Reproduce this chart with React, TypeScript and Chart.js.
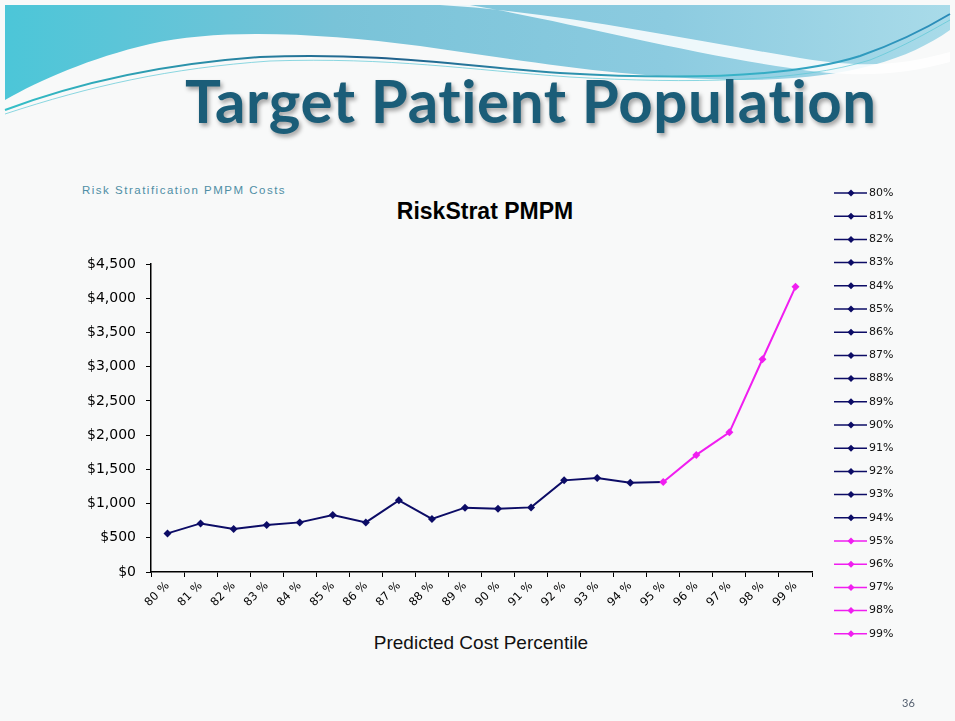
import React, { useEffect, useRef } from "react";
import { Chart, registerables } from "chart.js";

Chart.register(...registerables);

// ---- data ----
const categories = [
  "80 %", "81 %", "82 %", "83 %", "84 %", "85 %", "86 %", "87 %", "88 %", "89 %",
  "90 %", "91 %", "92 %", "93 %", "94 %", "95 %", "96 %", "97 %", "98 %", "99 %",
];
const legendLabels = [
  "80%", "81%", "82%", "83%", "84%", "85%", "86%", "87%", "88%", "89%",
  "90%", "91%", "92%", "93%", "94%", "95%", "96%", "97%", "98%", "99%",
];
const pmpmCosts = [
  564, 710, 628, 687, 725, 833, 725, 1047, 775, 940,
  925, 944, 1339, 1374, 1305, 1316, 1711, 2041, 3108, 4167,
];
// 1 = highlighted (top-percentile) group
const highlightGroup = [
  0, 0, 0, 0, 0, 0, 0, 0, 0, 0,
  0, 0, 0, 0, 0, 1, 1, 1, 1, 1,
];
const yMin = 0;
const yMax = 4500;
const yStep = 500;

const NAVY = "#0c0c66";
const MAGENTA = "#f01ef0";
const colorOf = (i: number) => (highlightGroup[i] ? MAGENTA : NAVY);

const sideLegend = {
  id: "sideLegend",
  afterDraw(chart: any) {
    const ctx = chart.ctx as CanvasRenderingContext2D;
    ctx.save();
    ctx.font = "11px 'DejaVu Sans'";
    ctx.textBaseline = "middle";
    ctx.textAlign = "left";
    legendLabels.forEach((lab, i) => {
      const y = 193 + i * 23.2;
      const c = colorOf(i);
      ctx.strokeStyle = c;
      ctx.lineWidth = 1.5;
      ctx.beginPath();
      ctx.moveTo(834, y);
      ctx.lineTo(867, y);
      ctx.stroke();
      ctx.fillStyle = c;
      ctx.beginPath();
      ctx.moveTo(851, y - 3.5);
      ctx.lineTo(854.5, y);
      ctx.lineTo(851, y + 3.5);
      ctx.lineTo(847.5, y);
      ctx.closePath();
      ctx.fill();
      ctx.fillStyle = "#111";
      ctx.fillText(lab, 869, y);
    });
    ctx.restore();
  },
};

function ChartCanvas() {
  const ref = useRef<HTMLCanvasElement | null>(null);
  useEffect(() => {
    if (!ref.current) return;
    const chart = new Chart(ref.current, {
      type: "line",
      data: {
        labels: categories,
        datasets: [
          {
            label: "RiskStrat PMPM",
            data: pmpmCosts,
            borderWidth: 2,
            borderColor: NAVY,
            segment: {
              borderColor: (ctx: any) => colorOf(ctx.p0DataIndex),
            },
            pointStyle: "rectRot",
            pointRadius: 4,
            pointBorderWidth: 0,
            pointBackgroundColor: categories.map((_, i) => colorOf(i)),
            pointBorderColor: categories.map((_, i) => colorOf(i)),
            tension: 0,
          },
        ],
      },
      options: {
        responsive: false,
        animation: false,
        devicePixelRatio: 1,
        layout: { padding: { left: 61, top: 264, right: 143, bottom: 89 } },
        plugins: {
          legend: { display: false },
          title: { display: false },
          tooltip: { enabled: false },
        },
        scales: {
          x: {
            type: "category",
            offset: true,
            grid: {
              offset: true,
              drawOnChartArea: false,
              drawTicks: true,
              tickLength: 5,
              color: "#000",
              lineWidth: 1,
            },
            border: { display: true, color: "#000", width: 1.5 },
            ticks: {
              autoSkip: false,
              maxRotation: 45,
              minRotation: 45,
              padding: 2,
              color: "#000",
              font: { family: "'DejaVu Sans'", size: 11.5 },
            },
            afterFit: (s: any) => {
              s.height = 60;
            },
          },
          y: {
            min: yMin,
            max: yMax,
            grid: {
              drawOnChartArea: false,
              drawTicks: true,
              tickLength: 5,
              color: "#000",
              lineWidth: 1,
            },
            border: { display: true, color: "#000", width: 1.5 },
            ticks: {
              stepSize: yStep,
              padding: 10,
              color: "#000",
              font: { family: "'DejaVu Sans'", size: 14 },
              callback: (v: any) => "$" + Number(v).toLocaleString("en-US"),
            },
            afterFit: (s: any) => {
              s.width = 90;
            },
          },
        },
      },
      plugins: [sideLegend],
    });
    return () => chart.destroy();
  }, []);
  return (
    <canvas
      ref={ref}
      width={955}
      height={721}
      style={{ position: "absolute", left: 0, top: 0, width: 955, height: 721 }}
    />
  );
}

function Header() {
  return (
    <svg width={955} height={160} style={{ position: "absolute", left: 0, top: 0 }}>
      <defs>
        <linearGradient id="band" x1="0" y1="0" x2="1" y2="0">
          <stop offset="0" stopColor="#4cc6d8" />
          <stop offset="0.35" stopColor="#79c3d8" />
          <stop offset="0.7" stopColor="#8ccbe0" />
          <stop offset="1" stopColor="#a9dbe9" />
        </linearGradient>
        <linearGradient id="lineg" x1="0" y1="0" x2="1" y2="0">
          <stop offset="0" stopColor="#35c0c8" />
          <stop offset="0.4" stopColor="#1f5f8a" />
          <stop offset="0.75" stopColor="#38b6c8" />
          <stop offset="1" stopColor="#2a8ab8" />
        </linearGradient>
      </defs>
      <path
        d="M5,5 L950,5 L950,30 C 905,62 840,80 740,80 C 620,78 520,60 420,46 C 320,33 220,28 150,44 C 90,58 40,80 5,100 Z"
        fill="url(#band)"
      />
      <path
        d="M440,5 C 560,12 690,40 800,58 C 860,68 900,66 950,52 L 950,62 C 900,76 850,78 790,68 C 680,52 560,20 470,5 Z"
        fill="#ffffff"
        opacity={0.85}
      />
      <path
        d="M5,110 C 80,82 160,64 260,57 C 380,52 460,66 560,73 C 680,80 790,78 860,56 C 900,42 930,26 950,14"
        fill="none"
        stroke="url(#lineg)"
        strokeWidth={2}
      />
      <path
        d="M5,114 C 90,86 170,68 270,61 C 390,57 470,70 570,77 C 690,84 800,82 870,60 C 905,46 932,30 950,20"
        fill="none"
        stroke="#5bc8d6"
        strokeWidth={1}
        opacity={0.7}
      />
    </svg>
  );
}

export default function App() {
  return (
    <div
      style={{
        position: "absolute",
        left: 0,
        top: 0,
        width: 955,
        height: 721,
        background: "#f8f9f9",
        overflow: "hidden",
        fontFamily: "'Liberation Sans', Arial, sans-serif",
      }}
    >
      <Header />
      <div
        style={{
          position: "absolute",
          left: 185,
          top: 70,
          fontFamily: "Lato, sans-serif",
          fontWeight: 700,
          fontSize: 60,
          letterSpacing: 0.6,
          lineHeight: 1,
          color: "#1b5d78",
          textShadow: "2px 3px 4px rgba(0,0,0,0.35)",
          whiteSpace: "nowrap",
        }}
      >
        Target Patient Population
      </div>
      <div
        style={{
          position: "absolute",
          left: 82,
          top: 184,
          fontSize: 11.5,
          lineHeight: "13px",
          letterSpacing: 1.5,
          color: "#4f8ea5",
          whiteSpace: "nowrap",
        }}
      >
        Risk Stratification PMPM Costs
      </div>
      <div
        style={{
          position: "absolute",
          left: 485 - 150,
          width: 300,
          top: 198,
          textAlign: "center",
          fontSize: 23,
          fontWeight: 700,
          lineHeight: "26px",
          color: "#000",
          whiteSpace: "nowrap",
        }}
      >
        RiskStrat PMPM
      </div>
      <div
        style={{
          position: "absolute",
          left: 481 - 150,
          width: 300,
          top: 632,
          textAlign: "center",
          fontSize: 19,
          lineHeight: "22px",
          color: "#111",
          whiteSpace: "nowrap",
        }}
      >
        Predicted Cost Percentile
      </div>
      <ChartCanvas />
      <div
        style={{
          position: "absolute",
          left: 902,
          top: 696,
          fontFamily: "Lato, sans-serif",
          fontSize: 11,
          lineHeight: "13px",
          color: "#556070",
        }}
      >
        36
      </div>
    </div>
  );
}
